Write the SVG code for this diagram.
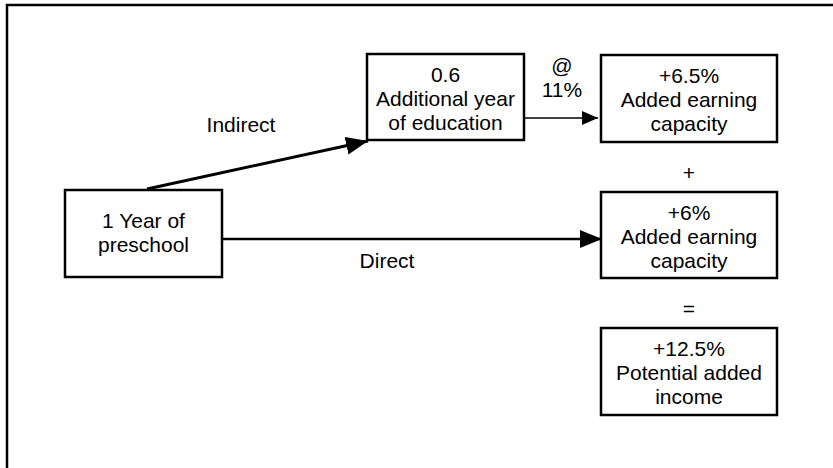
<svg xmlns="http://www.w3.org/2000/svg" width="833" height="468" viewBox="0 0 833 468">
<style>
.box{fill:#fff;stroke:#000;stroke-width:2.5}
.t{font-family:"Liberation Sans",Arial,sans-serif;font-size:21px;fill:#000;text-anchor:middle}
.c{fill:none;stroke:#000}
</style>
<defs>
<marker id="big" markerUnits="userSpaceOnUse" markerWidth="24" markerHeight="20" refX="22" refY="9" orient="auto">
<path d="M0,0 L22,9 L0,18 Z" fill="#000"/>
</marker>
<marker id="small" markerUnits="userSpaceOnUse" markerWidth="18" markerHeight="16" refX="16" refY="7" orient="auto">
<path d="M0,0 L16,7 L0,14 Z" fill="#000"/>
</marker>
</defs>
<rect width="833" height="468" fill="#fff"/>
<path d="M7,468 V5 H833" fill="none" stroke="#000" stroke-width="2.5"/>
<g id="connectors">
<path class="c" d="M147,189 L368,141" stroke-width="3" marker-end="url(#big)"/>
<path class="c" d="M222,239 L602,239" stroke-width="2.5" marker-end="url(#big)"/>
<path class="c" d="M522,118 L598,118" stroke-width="1.5" marker-end="url(#small)"/>
<text class="t" x="241" y="132">Indirect</text>
<text class="t" x="387" y="268">Direct</text>
<text class="t" x="562" y="73">@</text>
<text class="t" x="562" y="97">11%</text>
</g>
<g id="preschool">
<rect class="box" x="65" y="190" width="157" height="87"/>
<text class="t" x="143.5" y="228">1 Year of</text>
<text class="t" x="143.5" y="252">preschool</text>
</g>
<g id="education">
<rect class="box" x="367" y="54" width="157" height="86"/>
<text class="t" x="445.5" y="82">0.6</text>
<text class="t" x="445.5" y="106">Additional year</text>
<text class="t" x="445.5" y="130">of education</text>
</g>
<g id="earning1">
<rect class="box" x="601" y="55" width="176" height="87"/>
<text class="t" x="689" y="83">+6.5%</text>
<text class="t" x="689" y="107">Added earning</text>
<text class="t" x="689" y="131">capacity</text>
</g>
<g id="plus">
<text class="t" x="689" y="180">+</text>
</g>
<g id="earning2">
<rect class="box" x="601" y="192" width="176" height="86"/>
<text class="t" x="689" y="220">+6%</text>
<text class="t" x="689" y="244">Added earning</text>
<text class="t" x="689" y="268">capacity</text>
</g>
<g id="equals">
<text class="t" x="689" y="316">=</text>
</g>
<g id="income">
<rect class="box" x="601" y="328" width="176" height="87"/>
<text class="t" x="689" y="356">+12.5%</text>
<text class="t" x="689" y="380">Potential added</text>
<text class="t" x="689" y="404">income</text>
</g>
</svg>
